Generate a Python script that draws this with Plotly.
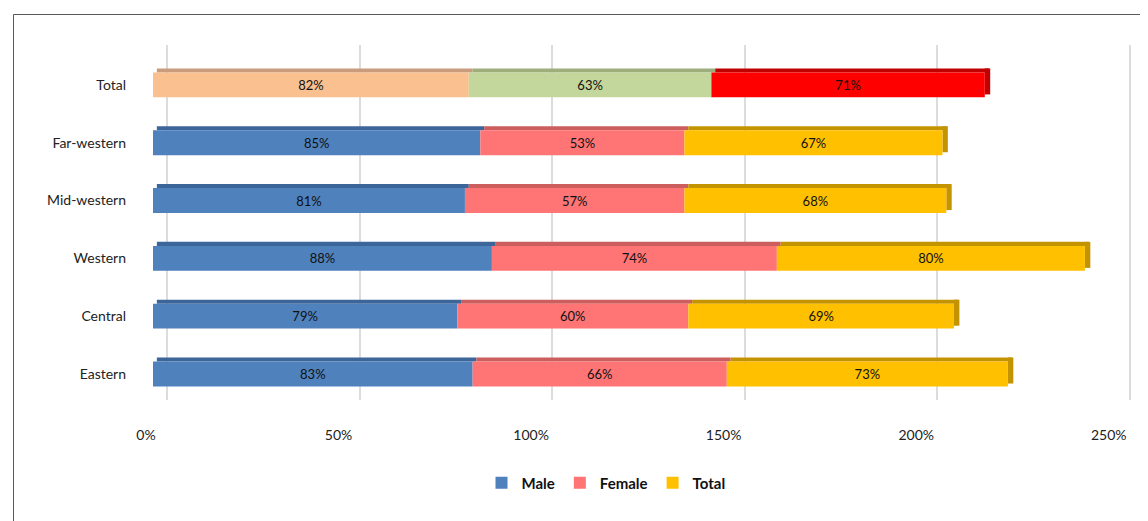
import plotly.graph_objects as go

categories = ["Eastern", "Central", "Western", "Mid-western", "Far-western", "Total"]
male = [83, 79, 88, 81, 85, 82]
female = [66, 60, 74, 57, 53, 63]
total = [73, 69, 80, 68, 67, 71]
series_names = ["Male", "Female", "Total"]
tick_vals = [0, 50, 100, 150, 200, 250]
tick_text = ["0%", "50%", "100%", "150%", "200%", "250%"]

# colours: regional rows, then the "Total" row
front = {
    "Male": ["#4F81BD"] * 5 + ["#FAC090"],
    "Female": ["#FF7575"] * 5 + ["#C3D69B"],
    "Total": ["#FFC000"] * 5 + ["#FF0000"],
}
top = {
    "Male": ["#3C659A"] * 5 + ["#C89C7C"],
    "Female": ["#CC5E5E"] * 5 + ["#9DAE7C"],
    "Total": ["#C49300"] * 5 + ["#C00000"],
}

FONT = "Lato"
BAR_W = 0.43
TOP_W = 0.07
SIDE = 1.4

values = {"Male": male, "Female": female, "Total": total}
bases = {
    "Male": [0] * len(categories),
    "Female": list(male),
    "Total": [m + f for m, f in zip(male, female)],
}
ends = [m + f + t for m, f, t in zip(male, female, total)]

fig = go.Figure()

# invisible helper trace for the (back-wall) grid axis
fig.add_trace(go.Scatter(x=[], y=[], xaxis="x2", yaxis="y", showlegend=False, hoverinfo="skip"))

# top faces (3D effect)
for name in series_names:
    fig.add_trace(go.Bar(
        y=categories, x=values[name], base=[b + 1.0 for b in bases[name]],
        orientation="h", width=TOP_W, offset=BAR_W / 2,
        marker=dict(color=top[name], line=dict(width=0)),
        showlegend=False, hoverinfo="skip",
    ))

# right end face
fig.add_trace(go.Bar(
    y=categories, x=[SIDE] * len(categories), base=ends,
    orientation="h", width=BAR_W + TOP_W - 0.05, offset=-BAR_W / 2 + 0.05,
    marker=dict(color=top["Total"], line=dict(width=0)),
    showlegend=False, hoverinfo="skip",
))

# front faces
for name in series_names:
    fig.add_trace(go.Bar(
        y=categories, x=values[name], base=bases[name],
        orientation="h", width=BAR_W, offset=-BAR_W / 2,
        name=name,
        marker=dict(color=front[name], line=dict(width=0)),
        text=[f"{v}%" for v in values[name]],
        textposition="inside", insidetextanchor="middle",
        textangle=0, constraintext="none",
        textfont=dict(family=FONT, size=13, color="#111111"),
    ))

# the page body adds an 8px offset; compensate in the margins
OFF = 8
PX_PER = 3.85
L, T = 153 - OFF, 45 - OFF
B = 521 - (400 - OFF)
R = 1148 - (1135 - OFF)
W = 1148 - L - R
H = 521 - T - B
fig.update_layout(
    width=1148, height=521,
    margin=dict(l=L, r=R, t=T, b=B, autoexpand=False),
    paper_bgcolor="white", plot_bgcolor="rgba(0,0,0,0)",
    barmode="overlay",
    font=dict(family=FONT, size=14, color="#222222"),
    xaxis=dict(range=[0, 255], showgrid=False, zeroline=False, automargin=False,
               tickvals=tick_vals, ticktext=tick_text, ticks="",
               ticklabelshift=-7, ticklabelstandoff=25,
               tickfont=dict(family=FONT, size=14, color="#222222")),
    xaxis2=dict(overlaying="x", anchor="y", side="bottom", automargin=False,
                range=[-14 / PX_PER, 255 - 14 / PX_PER],
                tickvals=tick_vals, showgrid=True, gridcolor="#DCDCDC", gridwidth=2,
                zeroline=False, showticklabels=False, ticks=""),
    yaxis=dict(categoryorder="array", categoryarray=categories, automargin=False,
               range=[-0.45, 5.69], showgrid=False, zeroline=False,
               ticks="", ticklabelstandoff=26,
               tickfont=dict(family=FONT, size=14, color="#222222")),
    legend=dict(orientation="h", x=(606 - OFF - L) / W, xanchor="center",
                y=-(483 - 400) / H, yanchor="middle",
                font=dict(family=FONT, size=15, color="#111111", weight="bold"),
                traceorder="normal", itemclick=False),
    shapes=[dict(type="rect", xref="paper", yref="paper",
                 x0=(13.5 - OFF - L) / W, x1=(1170 - OFF - L) / W,
                 y0=-(560 - 400) / H, y1=1 + (45 - 14.5) / H,
                 line=dict(color="#595959", width=1), fillcolor="rgba(0,0,0,0)",
                 layer="below")],
)

fig.write_html("out.html")
